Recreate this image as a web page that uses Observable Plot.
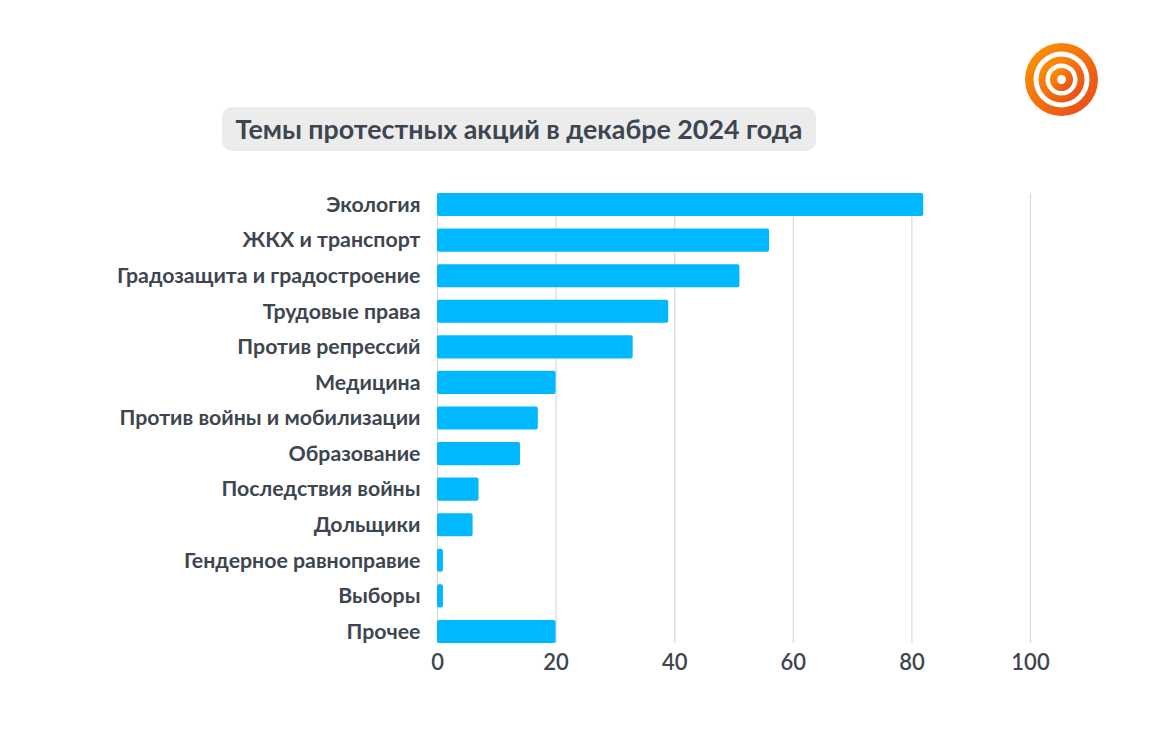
<!DOCTYPE html>
<html>
<head>
<meta charset="utf-8">
<script src="https://cdn.jsdelivr.net/npm/d3@7"></script>
<script src="https://cdn.jsdelivr.net/npm/@observablehq/plot@0.6"></script>
<style>
  html, body { margin: 0; padding: 0; background: #ffffff; }
  #wrap { position: relative; width: 1171px; height: 738px; overflow: hidden; font-family: Lato, "Open Sans", sans-serif; }
  #title {
    position: absolute; left: 222px; top: 107px; width: 594px; height: 44px;
    background: #ececec; border-radius: 10px; box-sizing: border-box;
    display: flex; align-items: center; justify-content: center;
    font-family: Lato, sans-serif; font-weight: 700; font-size: 26.8px; color: #3d4650;
    white-space: nowrap;
  }
  #logo { position: absolute; left: 1022px; top: 41px; }
  #chart { position: absolute; left: 0; top: 0; }
</style>
</head>
<body>
<div id="wrap">
  <div id="chart"></div>
  <div id="title"></div>
  <svg id="logo" width="78" height="78" viewBox="0 0 78 78">
    <defs>
      <linearGradient id="og" x1="0" y1="0" x2="1" y2="1">
        <stop offset="0" stop-color="#ff9a00"/>
        <stop offset="1" stop-color="#e5461c"/>
      </linearGradient>
    </defs>
    <circle cx="39.5" cy="38.5" r="36.5" fill="url(#og)"/>
    <circle cx="39.5" cy="38.5" r="28" fill="#ffffff"/>
    <circle cx="39.5" cy="38.5" r="23" fill="url(#og)"/>
    <circle cx="39.5" cy="38.5" r="16" fill="#ffffff"/>
    <circle cx="39.5" cy="38.5" r="11.5" fill="url(#og)"/>
    <circle cx="39.5" cy="38.5" r="4.5" fill="#ffffff"/>
  </svg>
</div>
<script>
const titleText = "Темы протестных акций в декабре 2024 года";
const categories = [
  "Экология",
  "ЖКХ и транспорт",
  "Градозащита и градостроение",
  "Трудовые права",
  "Против репрессий",
  "Медицина",
  "Против войны и мобилизации",
  "Образование",
  "Последствия войны",
  "Дольщики",
  "Гендерное равноправие",
  "Выборы",
  "Прочее"
];
const values = [82, 56, 51, 39, 33, 20, 17, 14, 7, 6, 1, 1, 20];
const xTicks = [0, 20, 40, 60, 80, 100];

document.getElementById("title").textContent = titleText;

const data = categories.map((c, i) => ({category: c, value: values[i]}));

const chart = Plot.plot({
  width: 1171,
  height: 738,
  marginTop: 193,
  marginBottom: 95,
  marginLeft: 437,
  marginRight: 141,
  style: {fontFamily: "Lato, sans-serif", background: "transparent", color: "#3d4650"},
  x: {domain: [0, 100], ticks: xTicks, label: null},
  y: {domain: categories, paddingInner: 0.35, paddingOuter: 0, round: false, label: null},
  marks: [
    Plot.ruleX(xTicks, {stroke: "#d9d9d9", strokeWidth: 1.2}),
    Plot.barX(data, {x: "value", y: "category", fill: "#00b8ff", rx: 2}),
    Plot.axisY({tickSize: 0, tickPadding: 17, fontSize: 21.3, fontWeight: 700, fill: "#3d4650", label: null}),
    Plot.axisX({ticks: xTicks, tickSize: 0, tickPadding: 11, fontSize: 22, fontWeight: 600, fill: "#3d4650", label: null})
  ]
});
document.getElementById("chart").appendChild(chart);
</script>
</body>
</html>
